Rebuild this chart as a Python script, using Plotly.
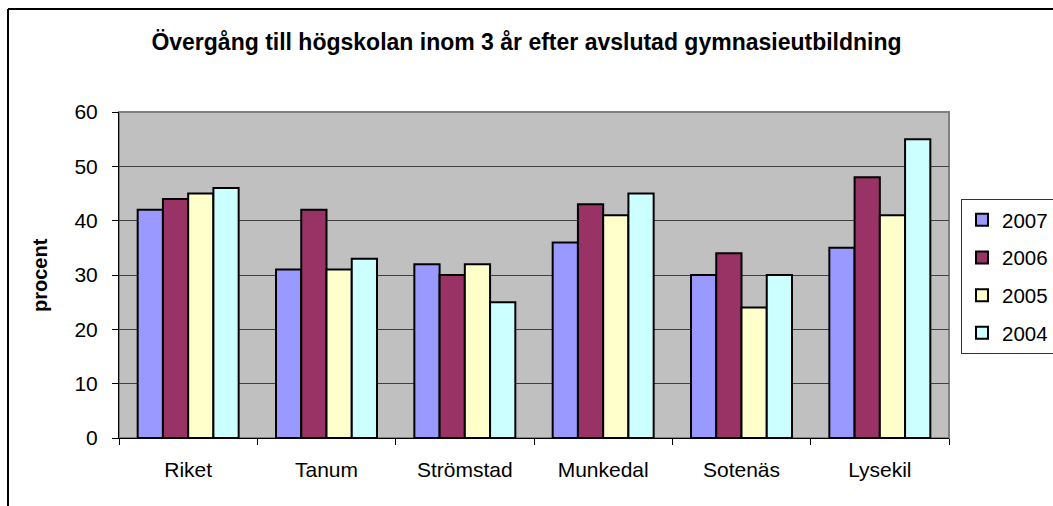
import plotly.graph_objects as go

categories = ["Riket", "Tanum", "Strömstad", "Munkedal", "Sotenäs", "Lysekil"]
years = ["2007", "2006", "2005", "2004"]
v2007 = [42, 31, 32, 36, 30, 35]
v2006 = [44, 42, 30, 43, 34, 48]
v2005 = [45, 31, 32, 41, 24, 41]
v2004 = [46, 33, 25, 45, 30, 55]
colors = ["#9999FF", "#993366", "#FFFFCC", "#CCFFFF"]

FONT = "Arial, Liberation Sans, sans-serif"

fig = go.Figure()
for name, vals, col in zip(years, [v2007, v2006, v2005, v2004], colors):
    fig.add_trace(go.Bar(
        x=categories, y=vals, name=name, legendgroup=name,
        marker=dict(color=col, line=dict(color="black", width=2)),
    ))

W, H = 1053, 506
L, R, T, B = 119, 949, 112, 438
pw, ph = R - L, B - T

def px_x(p):
    return (p - L) / pw

def px_y(p):
    return (B - p) / ph

fig.update_layout(
    width=W, height=H,
    margin=dict(l=L, r=W - R, t=T, b=H - B, autoexpand=False),
    paper_bgcolor="white",
    plot_bgcolor="#C0C0C0",
    barmode="group",
    bargap=0.27,
    bargroupgap=0,
    font=dict(family=FONT, size=18, color="black"),
    title=dict(
        text="<b>Övergång till högskolan inom 3 år efter avslutad gymnasieutbildning</b>",
        x=0.5, xanchor="center", y=1 - 42 / H, yanchor="middle",
        font=dict(family=FONT, size=23, color="black"),
    ),
    legend=dict(
        x=px_x(961), xanchor="left", y=px_y(199), yanchor="top",
        bgcolor="white", bordercolor="#333333", borderwidth=1,
        font=dict(family=FONT, size=20.5, color="black"),
        tracegroupgap=8, itemwidth=30,
    ),
    showlegend=True,
)

fig.update_xaxes(
    type="category",
    tickson="boundaries",
    ticks="outside", ticklen=6, tickcolor="black", tickwidth=1,
    showline=True, linecolor="black", linewidth=1,
    showgrid=False,
    ticklabelstandoff=13,
    tickfont=dict(family=FONT, size=21, color="black"),
)
fig.update_yaxes(
    range=[0, 60], dtick=10,
    ticks="outside", ticklen=6, tickcolor="black", tickwidth=1,
    showline=True, linecolor="black", linewidth=1,
    showgrid=True, gridcolor="#404040", gridwidth=1,
    zeroline=False,
    ticklabelstandoff=10,
    tickfont=dict(family=FONT, size=21, color="black"),
)

# plot area border (gray)
fig.add_shape(type="rect", xref="paper", yref="paper", x0=0, x1=1, y0=0, y1=1,
              line=dict(color="#808080", width=2), layer="below")
# outer chart border (left and top visible)
fig.add_shape(type="line", xref="paper", yref="paper",
              x0=px_x(8), x1=px_x(8), y0=px_y(9), y1=px_y(520),
              line=dict(color="black", width=2))
fig.add_shape(type="line", xref="paper", yref="paper",
              x0=px_x(8), x1=px_x(1060), y0=px_y(9), y1=px_y(9),
              line=dict(color="black", width=2))

fig.add_annotation(
    text="<b>procent</b>", textangle=-90,
    xref="paper", yref="paper", x=px_x(40), y=0.5,
    xanchor="center", yanchor="middle", showarrow=False,
    font=dict(family=FONT, size=20, color="black"),
)

fig.write_html(
    "out.html",
    config={"displayModeBar": False},
    post_script="document.body.style.margin='0';document.body.style.overflow='hidden';",
)
